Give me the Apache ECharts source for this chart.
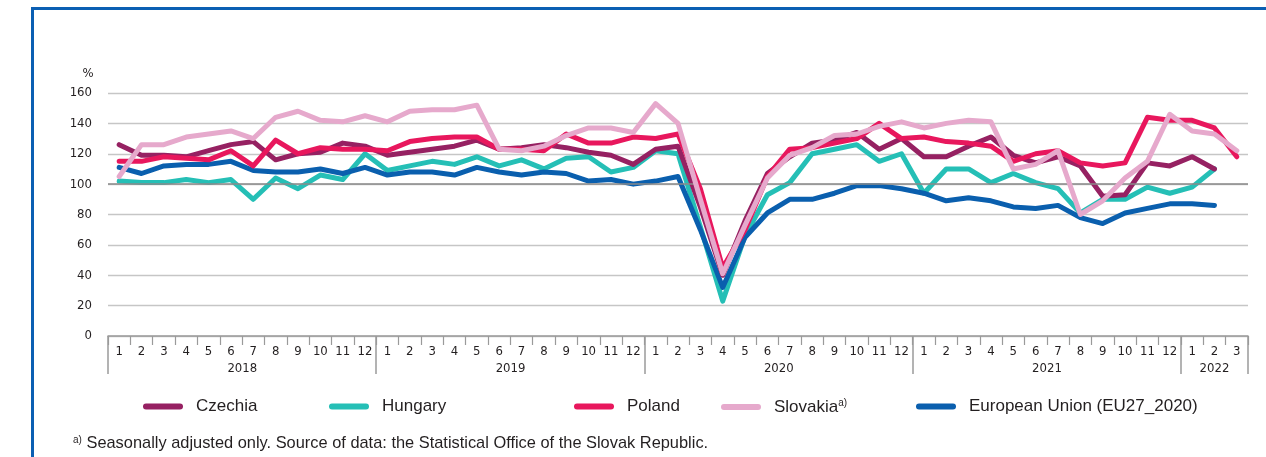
<!DOCTYPE html>
<html>
<head>
<meta charset="utf-8">
<script src="https://cdn.jsdelivr.net/npm/echarts@6/dist/echarts.min.js"></script>
<style>
    html, body {
        margin: 0;
        padding: 0;
        background: #fff;
        overflow: hidden;
    }
    #main {
        position: absolute;
        left: 0;
        top: 0;
        width: 1266px;
        height: 457px;
    }
    .frame {
        position: absolute;
        left: 31px;
        top: 7px;
        right: -20px;
        bottom: -20px;
        border-top: 3px solid #0b5fb3;
        border-left: 3px solid #0b5fb3;
        pointer-events: none;
    }
</style>
</head>
<body>
<div id="main"></div>
<div class="frame"></div>
<script>
// months run 2018-1 .. 2022-3
const years = ['2018', '2019', '2020', '2021', '2022'];
const monthsInYear = [12, 12, 12, 12, 3];

const czechia = [
    126, 119, 119, 118, 122, 126, 128, 116, 120, 121, 127, 125,
    119, 121, 123, 125, 129, 123, 124, 126, 124, 121, 119, 113,
    123, 125, 85, 40, 76, 107, 118, 127, 129, 134, 123, 130,
    118, 118, 125, 131, 119, 114, 118, 112, 92, 93, 114, 112,
    118, 110, null
];
const hungary = [
    102, 101, 101, 103, 101, 103, 90, 104, 97, 106, 103, 120,
    109, 112, 115, 113, 118, 112, 116, 110, 117, 118, 108, 111,
    122, 120, 72, 23, 66, 93, 101, 120, 123, 126, 115, 120,
    94, 110, 110, 101, 107, 101, 97, 81, 90, 90, 98, 94,
    98, 110, null
];
const poland = [
    115, 115, 118, 117, 116, 122, 112, 129, 120, 124, 123, 123,
    122, 128, 130, 131, 131, 123, 123, 122, 133, 127, 127, 131,
    130, 133, 97, 45, 70, 105, 123, 124, 127, 130, 140, 130,
    131, 128, 127, 125, 115, 120, 122, 114, 112, 114, 144, 142,
    142, 137, 118
];
const slovakia = [
    105, 126, 126, 131, 133, 135, 130, 144, 148, 142, 141, 145,
    141, 148, 149, 149, 152, 123, 122, 125, 132, 137, 137, 134,
    153, 140, 90, 41, 73, 104, 119, 124, 132, 133, 138, 141,
    137, 140, 142, 141, 110, 113, 122, 80, 89, 104, 115, 146,
    135, 133, 122
];
const eu = [
    111, 107, 112, 113, 113, 115, 109, 108, 108, 110, 107, 111,
    106, 108, 108, 106, 111, 108, 106, 108, 107, 102, 103, 100,
    102, 105, 70, 32, 65, 81, 90, 90, 94, 99, 99, 97,
    94, 89, 91, 89, 85, 84, 86, 78, 74, 81, 84, 87,
    87, 86, null
];

const categories = [];
years.forEach(function (y, k) {
    for (let m = 1; m <= monthsInYear[k]; m++) {
        categories.push(y + '-' + m);
    }
});

function monthOf(v) { return +v.split('-')[1]; }
function yearCount(v) { return monthsInYear[years.indexOf(v.split('-')[0])]; }

const font = 'Liberation Sans Narrow, DejaVu Sans Condensed, sans-serif';
const textFont = 'Liberation Sans, sans-serif';
const textColor = '#231f20';
const axisGray = '#9a9a9a';

const chart = echarts.init(document.getElementById('main'));

function lineSeries(name, data, color, z) {
    return {
        name: name,
        type: 'line',
        data: data,
        z: z,
        symbol: 'none',
        smooth: false,
        connectNulls: false,
        color: color,
        lineStyle: { width: 5, color: color, cap: 'round', join: 'round' }
    };
}

function legendAt(name, left) {
    return {
        data: [name],
        left: left,
        top: 398,
        padding: 0,
        orient: 'horizontal',
        icon: 'path://M3,0 L37,0 A3,3 0 0 1 37,6 L3,6 A3,3 0 0 1 3,0 Z',
        itemWidth: 40,
        itemHeight: 6,
        selectedMode: false,
        formatter: function (n) {
            return n === 'Slovakia' ? 'Slovakia{sup|a)}' : n;
        },
        textStyle: {
            fontFamily: textFont,
            fontSize: 17,
            color: textColor,
            padding: [0, 0, 0, 8],
            rich: {
                sup: {
                    fontFamily: textFont,
                    fontSize: 10,
                    color: textColor,
                    padding: [0, 0, 8, 0]
                }
            }
        }
    };
}

const hungarySeries = lineSeries('Hungary', hungary, '#25bfb6', 2);
hungarySeries.markLine = {
    silent: true,
    symbol: 'none',
    label: { show: false },
    lineStyle: { color: '#8a8a8a', width: 1.6, type: 'solid' },
    data: [{ yAxis: 100 }]
};

chart.setOption({
    animation: false,
    textStyle: { fontFamily: font },
    grid: { left: 108, right: 18, top: 93, bottom: 121, outerBoundsMode: 'none' },
    title: {
        text: '{sup|a)} Seasonally adjusted only. Source of data: the Statistical Office of the Slovak Republic.',
        left: 73,
        top: 435,
        padding: [0, 0, 0, 0],
        textStyle: {
            fontFamily: textFont,
            fontSize: 16.4,
            fontWeight: 'normal',
            color: textColor,
            rich: {
                sup: {
                    fontFamily: textFont,
                    fontSize: 10,
                    color: textColor,
                    padding: [0, 0, 7, 0]
                }
            }
        }
    },
    legend: [
        legendAt('Czechia', 143),
        legendAt('Hungary', 329),
        legendAt('Poland', 574),
        legendAt('Slovakia', 721),
        legendAt('European Union (EU27_2020)', 916)
    ],
    xAxis: [
        {
            type: 'category',
            position: 'bottom',
            data: categories,
            boundaryGap: true,
            axisLine: { show: true, lineStyle: { color: axisGray, width: 1.5 } },
            axisTick: { show: true, interval: 0, length: 9, lineStyle: { color: axisGray, width: 1.2 } },
            axisLabel: {
                interval: 0,
                margin: 9,
                fontFamily: font,
                fontSize: 13,
                color: textColor,
                formatter: function (v) { return String(monthOf(v)); }
            },
            splitLine: { show: false }
        },
        {
            type: 'category',
            position: 'bottom',
            data: categories,
            boundaryGap: true,
            axisLine: { show: false },
            axisTick: {
                show: true,
                length: 38,
                interval: function (i, v) { return monthOf(v) === 1; },
                lineStyle: { color: axisGray, width: 1.5 }
            },
            axisLabel: {
                margin: 26,
                fontFamily: font,
                fontSize: 13,
                color: textColor,
                interval: function (i, v) {
                    return monthOf(v) === Math.floor(yearCount(v) / 2) + 1;
                },
                formatter: function (v) {
                    const y = v.split('-')[0];
                    return yearCount(v) % 2 === 0 ? '{even|' + y + '}' : '{odd|' + y + '}';
                },
                rich: {
                    even: { fontFamily: font, fontSize: 13, color: textColor, padding: [0, 22, 0, 0] },
                    odd: { fontFamily: font, fontSize: 13, color: textColor }
                }
            },
            splitLine: { show: false }
        }
    ],
    yAxis: {
        type: 'value',
        min: 0,
        max: 160,
        interval: 20,
        name: '%',
        nameLocation: 'end',
        nameGap: 13,
        nameTextStyle: { fontFamily: font, fontSize: 13, color: textColor, align: 'center', padding: [0, 40, 0, 0] },
        axisLine: { show: false },
        axisTick: { show: false },
        axisLabel: { margin: 16, fontFamily: font, fontSize: 13, color: textColor },
        splitLine: { lineStyle: { color: '#c6c6c6', width: 1.3 } }
    },
    series: [
        lineSeries('Czechia', czechia, '#962162', 4),
        hungarySeries,
        lineSeries('Poland', poland, '#e8175d', 5),
        lineSeries('Slovakia', slovakia, '#e6a9cc', 6),
        lineSeries('European Union (EU27_2020)', eu, '#0a5fae', 3)
    ]
});
</script>
</body>
</html>
